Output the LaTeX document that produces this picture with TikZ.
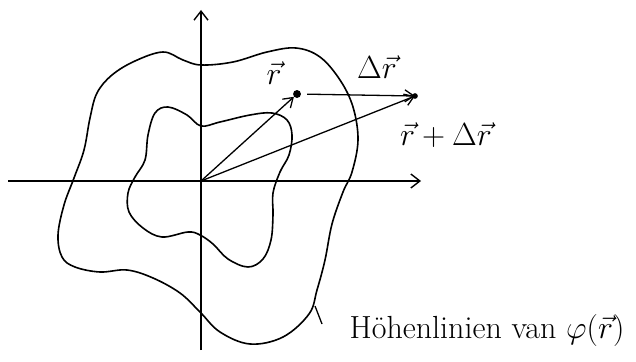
\documentclass[tikz,border=0pt]{standalone}
\usepackage{fix-cm}
\usepackage{fontspec}
\usepackage{amsmath,amssymb}
\usepackage{tikz}
\usetikzlibrary{arrows.meta,positioning,calc}
\tikzset{
  axis/.style={line width=1.4pt,black,-{Straight Barb[length=9pt,width=14pt]}},
  hline/.style={line width=1.6pt,black},
  vec/.style={line width=1.3pt,black,-{Straight Barb[length=9pt,width=12pt]}},
  dotpt/.style={circle,fill=black,inner sep=2.8pt},
  lab/.style={font=\fontsize{32}{36}\selectfont},
}

\begin{document}
\begin{tikzpicture}[x=1pt,y=-1pt]
  \useasboundingbox (0,0) rectangle (636,361);

  % axes
  \coordinate (O) at (201,181);
  \coordinate (xl) at (8,181);
  \coordinate (xr) at (421,181);
  \coordinate (yb) at (201,350);
  \coordinate (yt) at (201,10);
  \draw[axis] (xl)--(xr);
  \draw[axis] (yb)--(yt);

  % level curves
  \draw[hline] plot[smooth cycle,tension=.6] coordinates {
    (201,65) (233,62) (267,52) (296,48) (320,57) (340,80) (353,107)
    (358,140) (352,172) (343,192) (332,224) (325,260) (317,290) (309,314)
    (283,337) (250,344) (220,332) (200,312) (180,293) (153,278) (127,270)
    (100,272) (75,267) (62,257) (58,235) (64,205) (74,178) (84,150)
    (90,118) (97,93) (112,75) (135,61) (163,52) (183,60)};
  \draw[hline] plot[smooth cycle,tension=.6] coordinates {
    (201,126) (220,122) (250,115) (272,113) (287,120) (292,135) (289,155)
    (280,172) (273,193) (273,215) (271,240) (263,259) (248,267) (228,259)
    (213,244) (200,235) (188,232) (162,237) (143,228) (129,212) (128,193)
    (135,177) (145,160) (148,135) (155,113) (168,107) (187,115)};

  % vectors
  \node[dotpt] (r) at (297,94) {};
  \node[dotpt,inner sep=2pt] (rdr) at (415,96) {};
  \draw[vec] (O)--(r);
  \draw[vec,shorten <=6pt] (r)--(rdr.center);
  \draw[vec] (O)--(rdr.center);

  \node[lab] (rlab) at (274,73) {$\vec{r}$};
  \node[lab] (drlab) at (377,67) {$\Delta\vec{r}$};
  \node[lab] (sumlab) at (446,135) {$\vec{r}+\Delta\vec{r}$};

  % label of the level curves
  \node[lab] (hl) at (487,330) {Höhenlinien van $\varphi(\vec{r})$};
  \coordinate (tick) at (315,306);
  \draw[line width=1.3pt] (tick)--++(7,18);
\end{tikzpicture}
\end{document}
